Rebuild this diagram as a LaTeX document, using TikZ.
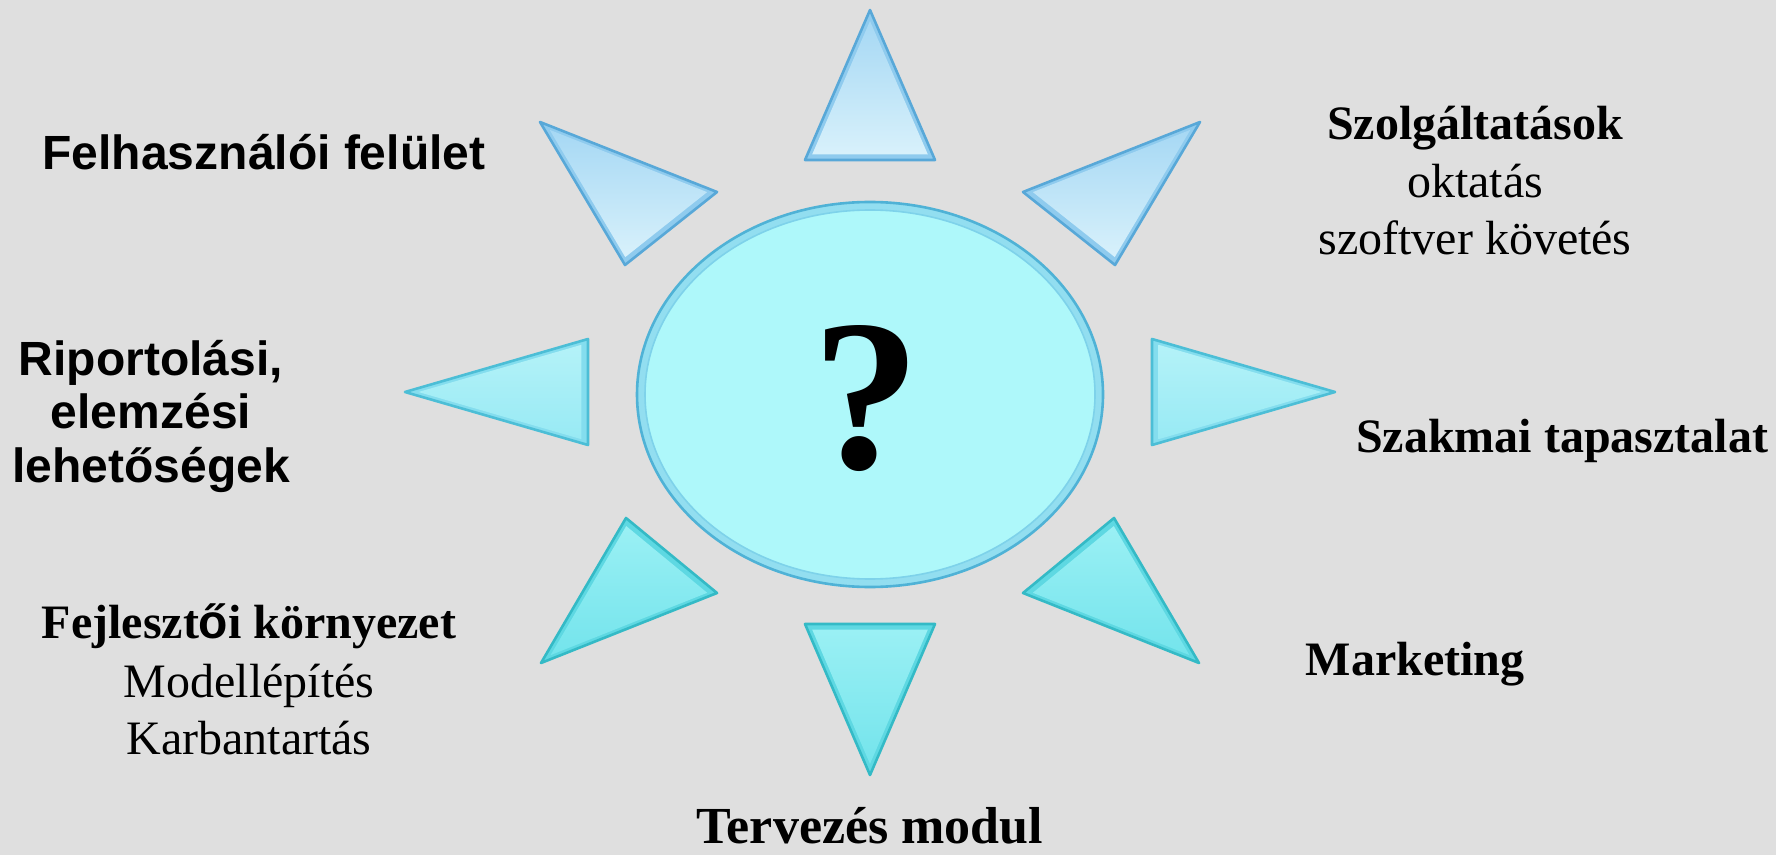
\documentclass[tikz,border=0pt]{standalone}
\usepackage{fontspec}
\setmainfont{Liberation Serif}
\newfontfamily\arialf{Liberation Sans}
\usetikzlibrary{calc,shapes.geometric}

\definecolor{bgc}{HTML}{DFDFDF}
% blue set
\definecolor{bEdge}{HTML}{58A8D8}
\definecolor{bBand}{HTML}{8FCBEE}
\definecolor{bTop}{HTML}{A6D8F4}
\definecolor{bBot}{HTML}{D8F1FB}
% middle set
\definecolor{mEdge}{HTML}{4CBED6}
\definecolor{mBand}{HTML}{84DDEE}
\definecolor{mTop}{HTML}{B4F2F8}
\definecolor{mBot}{HTML}{98EAF4}
% cyan set
\definecolor{cEdge}{HTML}{34BAC6}
\definecolor{cBand}{HTML}{5ED8E2}
\definecolor{cTop}{HTML}{9AF0F4}
\definecolor{cBot}{HTML}{74E4EC}
% ellipse
\definecolor{eEdge}{HTML}{4FB2D6}
\definecolor{eRim}{HTML}{92DEF0}
\definecolor{eFill}{HTML}{AEF8FA}
\definecolor{eLine}{HTML}{7ED2EA}

\newcommand\bevtri[7]{%
  \coordinate (#1-a) at #2;
  \coordinate (#1-b) at #3;
  \coordinate (#1-c) at #4;
  \coordinate (#1-m) at (barycentric cs:#1-a=1,#1-b=1,#1-c=1);
  \filldraw[fill=#5Band, draw=#5Edge, line width=1.3pt, line join=round]
    (#1-a) -- (#1-b) -- (#1-c) -- cycle;
  \shade[top color=#6, bottom color=#7]
    ($(#1-a)!0.11!(#1-m)$) -- ($(#1-b)!0.11!(#1-m)$) -- ($(#1-c)!0.11!(#1-m)$) -- cycle;
}

\begin{document}
\begin{tikzpicture}[x=0.5pt,y=-0.5pt,
  lbl/.style={anchor=base, inner sep=0pt, outer sep=0pt, font=\fontsize{24}{28}\selectfont},
  serifb/.style={lbl, font=\fontsize{24}{28}\selectfont\bfseries},
  serifr/.style={lbl},
  sansb/.style={lbl, font=\fontsize{24}{28}\selectfont\arialf\bfseries}]

\fill[bgc] (0,0) rectangle (1776,855);
\useasboundingbox (0,0) rectangle (1776,855);

% rays
\bevtri{top}{(870,10)}{(805,160)}{(935,160)}{b}{bTop}{bBot}
\bevtri{tl}{(540,122)}{(717,192)}{(625,265)}{b}{bTop}{bBot}
\bevtri{tr}{(1200,122)}{(1023,192)}{(1115,265)}{b}{bTop}{bBot}
\bevtri{lft}{(405,392)}{(588,339)}{(588,445)}{m}{mTop}{mBot}
\bevtri{rgt}{(1335,392)}{(1152,339)}{(1152,445)}{m}{mTop}{mBot}
\bevtri{bl}{(541,663)}{(717,593)}{(626,518)}{c}{cTop}{cBot}
\bevtri{br}{(1199,663)}{(1023,593)}{(1114,518)}{c}{cTop}{cBot}
\bevtri{bot}{(805,624)}{(935,624)}{(870,775)}{c}{cTop}{cBot}

% centre
\node (core) at (870,394.5) [ellipse, inner sep=0pt, minimum width=233pt, minimum height=192.5pt,
  fill=eRim, draw=eEdge, line width=1.3pt] {};
\node (coreIn) at (870,394.5) [ellipse, inner sep=0pt, minimum width=225pt, minimum height=184.5pt,
  fill=eFill, draw=eLine, line width=0.8pt] {};
\node (q) at (866,468) [anchor=base, inner sep=0pt, font=\fontsize{108}{110}\selectfont\bfseries] {?};

% labels
\node (felh) at (264,170) [sansb] {Felhasználói felület};
\node (rip1) at (151,376) [sansb] {Riportolási,};
\node (rip2) at (151,429) [sansb] {elemzési};
\node (rip3) at (151,482) [sansb] {lehetőségek};

\node (fej1) at (249,638) [serifb] {Fejleszt{\arialf ő}i környezet};
\node (fej2) at (249,697) [serifr] {Modellépítés};
\node (fej3) at (249,754) [serifr] {Karbantartás};

\node (szo1) at (1475,140) [serifb] {Szolgáltatások};
\node (szo2) at (1475,198) [serifr] {oktatás};
\node (szo3) at (1475,255) [serifr] {szoftver követés};

\node (szak) at (1562,452) [serifb] {Szakmai tapasztalat};
\node (mark) at (1415,675) [serifb] {Marketing};
\node (terv) at (870,843) [lbl, font=\fontsize{26}{30}\selectfont\bfseries] {Tervezés modul};
\end{tikzpicture}
\end{document}
